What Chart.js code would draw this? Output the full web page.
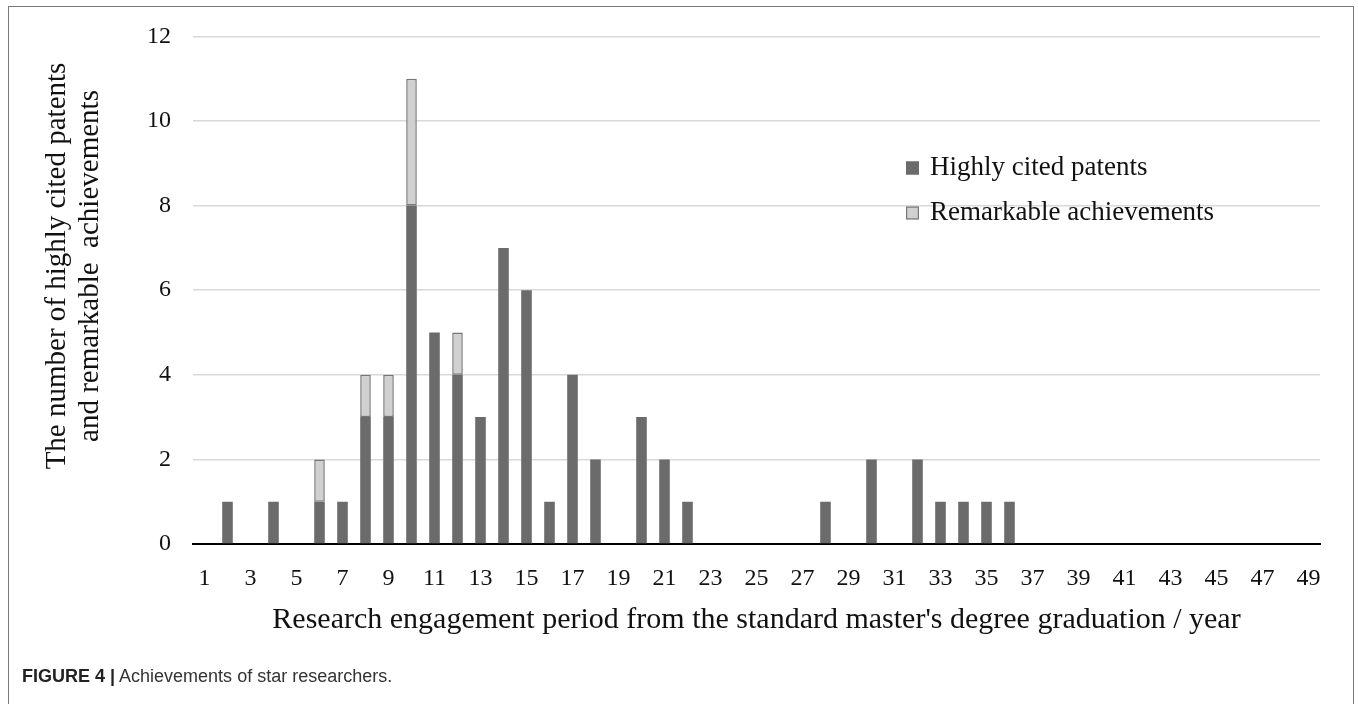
<!DOCTYPE html>
<html><head><meta charset="utf-8">
<script src="https://cdn.jsdelivr.net/npm/chart.js@4"></script>
<style>
html,body{margin:0;padding:0;background:#fff;width:1358px;height:704px;overflow:hidden;}
#frame{position:absolute;left:8px;top:6px;width:1346px;height:760px;border:1.5px solid #7a7a7a;box-sizing:border-box;}
#wrap{position:absolute;left:0;top:0;width:1358px;height:704px;}
#cap{position:absolute;left:22px;top:666px;font-family:"Liberation Sans",Arial,sans-serif;font-size:18px;color:#333;}
#cap b{color:#222;}
</style></head>
<body>
<div id="frame"></div>
<div id="wrap"><canvas id="c" width="1358" height="704"></canvas></div>
<div id="cap"><b>FIGURE 4 |</b> Achievements of star researchers.</div>
<script>
const years = Array.from({length:49},(_,i)=>String(i+1));
const seriesNames = ["Highly cited patents","Remarkable achievements"];
// values per year 1..49
const highlyCited = [0,1,0,1,0,1,1,3,3,8,5,4,3,7,6,1,4,2,0,3,2,1,0,0,0,0,0,1,0,2,0,2,1,1,1,1,0,0,0,0,0,0,0,0,0,0,0,0,0];
const remarkable  = [0,0,0,0,0,1,0,1,1,3,0,1,0,0,0,0,0,0,0,0,0,0,0,0,0,0,0,0,0,0,0,0,0,0,0,0,0,0,0,0,0,0,0,0,0,0,0,0,0];
const yTicks = [0,2,4,6,8,10,12];
const yTitle = ["The number of highly cited patents","and remarkable  achievements"];
const xTitle = "Research engagement period from the standard master's degree graduation / year";

const serif = '"Liberation Serif","Times New Roman",serif';

const legendPlugin = {
  id:'insideLegend',
  afterDraw(chart){
    const ctx = chart.ctx;
    ctx.save();
    ctx.font = '27px ' + serif;
    ctx.textBaseline = 'middle';
    chart.data.datasets.forEach((ds,i)=>{
      const y = 168 + i*45;
      const x = 906;
      ctx.fillStyle = ds.backgroundColor;
      ctx.fillRect(x, y-6.5, 13, 13);
      ctx.strokeStyle = ds.borderColor;
      ctx.lineWidth = 1.2;
      ctx.strokeRect(x+0.6, y-5.9, 11.8, 11.8);
      ctx.fillStyle = '#111';
      ctx.fillText(ds.label, x+24, y);
    });
    ctx.restore();
  }
};

const yTitlePlugin = {
  id:'yTitle',
  afterDraw(chart){
    const ctx = chart.ctx;
    ctx.save();
    ctx.font = '29px ' + serif;
    ctx.fillStyle = '#111';
    ctx.textAlign = 'center';
    ctx.textBaseline = 'middle';
    const cy = 266;
    yTitle.forEach((line,i)=>{
      ctx.save();
      ctx.translate(57 + i*33, cy);
      ctx.rotate(-Math.PI/2);
      ctx.fillText(line, 0, 0);
      ctx.restore();
    });
    ctx.restore();
  }
};

new Chart(document.getElementById('c'), {
  type:'bar',
  data:{
    labels: years,
    datasets:[
      {label:seriesNames[0], data:highlyCited, backgroundColor:'#6b6b6b', borderColor:'#6b6b6b', borderWidth:0, barPercentage:0.46, categoryPercentage:1},
      {label:seriesNames[1], data:remarkable, backgroundColor:'#d0d0d0', borderColor:'#777777', borderWidth:1.5, borderSkipped:false, barPercentage:0.46, categoryPercentage:1}
    ]
  },
  options:{
    responsive:false,
    animation:false,
    layout:{padding:{top:35,right:38,bottom:0,left:0}},
    plugins:{legend:{display:false}, tooltip:{enabled:false}},
    scales:{
      x:{
        stacked:true,
        afterFit(s){ s.height = 160; },
        grid:{display:false, drawTicks:false},
        border:{display:true, color:'#000', width:2},
        ticks:{autoSkip:false, maxRotation:0, padding:20, color:'#111', font:{family:serif,size:24},
          callback(v,i){ return i%2===0 ? years[i] : ''; }},
        title:{display:true, text:xTitle,
          color:'#111', font:{family:serif,size:30,lineHeight:1.2}, padding:{top:0,bottom:66}}
      },
      y:{
        stacked:true,
        min:0,max:12,
        afterFit(s){ s.width = 193; },
        afterBuildTicks(s){ s.ticks = yTicks.map(v=>({value:v})); },
        grid:{color:'#d9d9d9', lineWidth:1.5, drawTicks:false},
        border:{display:false},
        ticks:{padding:22, color:'#111', font:{family:serif,size:24}},
        title:{display:false}
      }
    }
  },
  plugins:[legendPlugin, yTitlePlugin]
});
</script>
</body></html>
